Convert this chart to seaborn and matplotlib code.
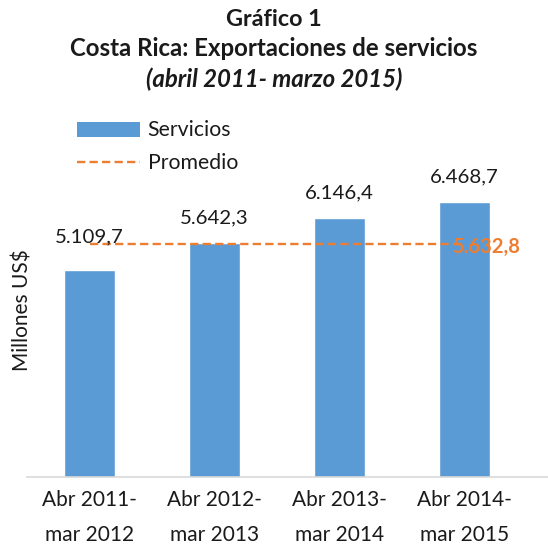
import numpy as np
import pandas as pd
import matplotlib
matplotlib.use("Agg")
import matplotlib.pyplot as plt
import seaborn as sns
from matplotlib.patches import Patch
from matplotlib.lines import Line2D

# Data
periodos = ["Abr 2011-\nmar 2012", "Abr 2012-\nmar 2013",
            "Abr 2013-\nmar 2014", "Abr 2014-\nmar 2015"]
servicios = [5109.7, 5642.3, 6146.4, 6468.7]
promedio = [5632.8, 5632.8, 5632.8, 5632.8]
etiquetas = ["5.109,7", "5.642,3", "6.146,4", "6.468,7"]
etiqueta_promedio = "5.632,8"

azul = "#5B9BD5"
naranja = "#ED7D31"
texto = "#1a1a1a"

sns.set_style("white")
plt.rcParams['font.family'] = ['Lato', 'DejaVu Sans']

df = pd.DataFrame({"periodo": periodos, "valor": servicios})

fig = plt.figure(figsize=(5.48, 5.48), dpi=100)
ax = fig.add_axes([27 / 548, 71 / 548, 521 / 548, 302 / 548])

sns.barplot(data=df, x="periodo", y="valor", color=azul, width=0.41,
            saturation=1, ax=ax)
sns.lineplot(x=np.arange(len(promedio)), y=promedio, color=naranja,
             linewidth=1.7, ax=ax)
ax.lines[-1].set_dashes((3.5, 1.8))

ax.set_ylim(1000, 7000)
ax.set_xlim(-0.5, 3.668)

# value labels above bars
offsets = [33, 25, 25, 25]
for i, (v, lab) in enumerate(zip(servicios, etiquetas)):
    ax.annotate(lab, (i, v), xytext=(0, offsets[i] * 0.72), textcoords="offset points",
                ha="center", va="center", fontsize=14.7, color=texto)
ax.annotate(etiqueta_promedio, (3, promedio[-1]), xytext=(-9, -2.5),
            textcoords="offset points", ha="left", va="center",
            fontsize=14.5, fontweight="bold", color=naranja)

ax.set_xlabel("")
ax.set_ylabel("")
fig.text(23 / 548, 1 - 310 / 548, "Millones US$", rotation=90, ha="center",
         va="center", fontsize=15, color=texto)
ax.set_yticks([])
ax.tick_params(axis="x", length=0, pad=9, labelsize=15, colors=texto)
for t in ax.get_xticklabels():
    t.set_linespacing(1.95)
for s in ["left", "right", "top"]:
    ax.spines[s].set_visible(False)
ax.spines["bottom"].set_color("#D9D9D9")
ax.spines["bottom"].set_linewidth(1.2)

# title
fig.text(0.5, 1 - 19 / 548, "Gráfico 1", ha="center", va="center",
         fontsize=16.8, fontweight="bold", color=texto)
fig.text(0.5, 1 - 49 / 548, "Costa Rica: Exportaciones de servicios",
         ha="center", va="center", fontsize=17.3, fontweight="bold", color=texto)
fig.text(0.5, 1 - 79 / 548, "(abril 2011- marzo 2015)", ha="center",
         va="center", fontsize=17.3, fontweight="bold", style="italic", color=texto)

handles = [Patch(facecolor=azul, edgecolor="none"),
           Line2D([0], [0], color=naranja, linewidth=1.7, dashes=(3.5, 1.8))]
fig.legend(handles, ["Servicios", "Promedio"], loc="upper left",
           bbox_to_anchor=(68 / 548, 1 - 112 / 548), frameon=False,
           fontsize=15.3, handlelength=3.0, handletextpad=0.35,
           labelspacing=0.6, borderaxespad=0, labelcolor=texto)

fig.savefig("out.png", dpi=100)
